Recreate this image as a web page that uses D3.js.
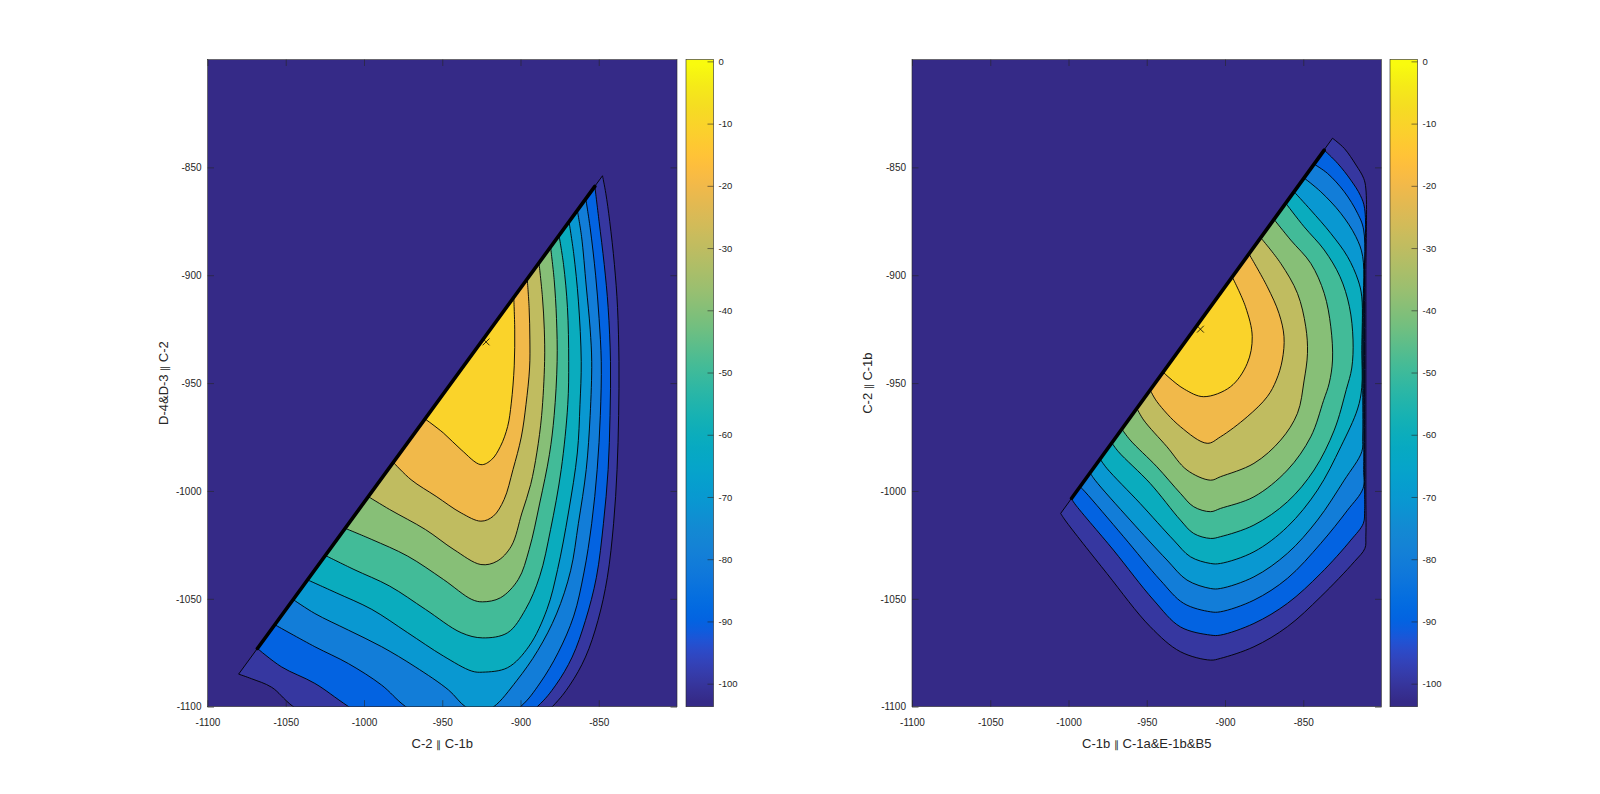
<!DOCTYPE html>
<html>
<head>
<meta charset="utf-8">
<script src="https://cdn.jsdelivr.net/npm/d3@7"></script>
<style>
    body { margin: 0; background: #ffffff; }
    svg text { font-family: "Liberation Sans", Arial, Helvetica, sans-serif; fill: #262626; }
</style>
</head>
<body>
<div id="canvas"></div>
<script>
// contour levels, outermost first
const levels = [-100, -90, -80, -70, -60, -50, -40, -30, -20, -10];
const axisTicks = [-1100, -1050, -1000, -950, -900, -850];
const colorTicks = [0, -10, -20, -30, -40, -50, -60, -70, -80, -90, -100];
const colorLimits = [-103.7, 0.3];

// each contour as [x, y]: from its upper end on the ridge,
// round the curve, to its lower end (closed back along the ridge)
const leftContours = [
    [[-847.6,-853.9],[-845.5,-862],[-843,-875],[-840,-895],[-838,-915],[-837.1,-940],[-837.3,-965],[-838.3,-990],[-840.5,-1015],[-844.5,-1040],[-850.5,-1060],[-858.5,-1077],[-868.5,-1090],[-879.7,-1100],[-950,-1145],[-1045.2,-1100],[-1059,-1091],[-1072,-1087],[-1080.1,-1084.9]],
    [[-852.5,-858.8],[-849.8,-875],[-846.5,-895],[-844,-915],[-842.5,-940],[-842.8,-965],[-844,-990],[-847,-1015],[-851.5,-1040],[-858.5,-1060],[-867,-1077],[-877.5,-1090],[-889.3,-1100],[-945,-1130],[-1009.8,-1100],[-1031.4,-1089.2],[-1052.8,-1081.5],[-1068.1,-1073.0]],
    [[-858.3,-864.5],[-855.5,-878],[-852,-900],[-849.8,-920],[-848.4,-940],[-849,-965],[-851,-990],[-854.5,-1015],[-859.5,-1038],[-866,-1058],[-876,-1075],[-887.5,-1089],[-900,-1100],[-935,-1116],[-973.3,-1100],[-988.7,-1090.0],[-1010.0,-1080.0],[-1031.4,-1072.2],[-1057.0,-1062.0]],
    [[-863.7,-869.9],[-861,-882],[-858,-905],[-855.5,-925],[-854.5,-940],[-855.5,-965],[-858,-990],[-863,-1015],[-868,-1037],[-877,-1057],[-889,-1074],[-902.5,-1088],[-917.1,-1100],[-926,-1102.5],[-935.2,-1100],[-945.9,-1092.3],[-967.3,-1081.5],[-988.7,-1072.2],[-1010.0,-1064.5],[-1031.4,-1056.8],[-1045.3,-1050.3]],
    [[-869.0,-875.2],[-866,-890],[-863,-912],[-861.2,-940],[-862,-960],[-863.7,-982.4],[-869.4,-1010.2],[-876.3,-1036.4],[-883.1,-1054.9],[-894.5,-1071.9],[-908.2,-1081.9],[-924.2,-1084.0],[-931.1,-1083.5],[-949.3,-1076.5],[-972.1,-1065.7],[-995.0,-1054.9],[-1017.8,-1047.2],[-1036.1,-1041.2]],
    [[-875.4,-881.5],[-872.5,-895],[-870,-915],[-869.2,-940],[-869.8,-960],[-874.0,-990.1],[-880.8,-1017.9],[-887.7,-1039.5],[-896.8,-1054.9],[-908.2,-1065.7],[-924.2,-1068.1],[-937.9,-1065.7],[-960.7,-1054.9],[-983.6,-1044.1],[-1006.4,-1036.4],[-1024.7,-1029.9]],
    [[-880.8,-886.9],[-878.5,-902],[-877,-920],[-876.6,-940],[-878.5,-965],[-881.5,-983],[-887.7,-1005.6],[-894.5,-1027.2],[-901.4,-1041.0],[-912.8,-1049.5],[-924.2,-1051.4],[-931.1,-1050.3],[-949.3,-1041.0],[-972.1,-1030.2],[-995.0,-1022.5],[-1012.1,-1017.3]],
    [[-888.2,-894.2],[-886,-910],[-884.8,-925],[-884.6,-940],[-886.5,-965],[-889.5,-982],[-893.5,-997],[-899.1,-1010.2],[-905.9,-1025.6],[-915.1,-1032.6],[-925.3,-1034.1],[-942.5,-1027.2],[-960.7,-1017.9],[-983.6,-1008.6],[-997.3,-1002.6]],
    [[-895.7,-901.7],[-894.5,-915],[-894,-930],[-894.2,-943],[-896.5,-960],[-899.5,-975],[-904.8,-990.1],[-910.5,-1004.0],[-917.4,-1011.7],[-925.3,-1014.0],[-937.9,-1010.2],[-953.9,-1002.5],[-969.9,-994.8],[-981.3,-986.7]],
    [[-904.3,-910.2],[-903.7,-925],[-904,-942],[-905.9,-959.3],[-908.2,-970.1],[-912.8,-979.3],[-918.5,-985.5],[-925.3,-987.8],[-937.9,-980.9],[-949.3,-973.1],[-961,-966.6]]
];

const rightContours = [
    [[-831.3,-836.5],[-823.8,-841.2],[-816.3,-848.9],[-811.4,-855.1],[-810.0,-860],[-810.0,-900],[-810.0,-950],[-810.0,-1000],[-810.0,-1021],[-810.6,-1026.6],[-817.4,-1032.8],[-838.8,-1049.0],[-860.1,-1062.9],[-881.5,-1072.2],[-902.9,-1077.6],[-909.3,-1078.4],[-928.5,-1074.5],[-947.8,-1062.9],[-975.5,-1038.2],[-1002.2,-1013.5],[-1005.0,-1010.4]],
    [[-836.6,-842.0],[-828.1,-848.1],[-819.6,-855.9],[-813.5,-863],[-810.8,-869],[-810.8,-900],[-810.8,-950],[-810.8,-1000],[-810.8,-1009],[-811.6,-1015.0],[-819.6,-1022.8],[-838.8,-1038.2],[-860.1,-1052.1],[-881.5,-1061.4],[-902.9,-1066.8],[-909.3,-1066.8],[-928.5,-1063.0],[-945.6,-1050.6],[-971.3,-1027.4],[-996.9,-1005.0],[-998.0,-1003.4]],
    [[-843.1,-848.5],[-834.5,-852.8],[-823.8,-861.3],[-815.3,-871.3],[-811.4,-879],[-811.4,-910],[-811.4,-950],[-811.4,-990],[-811.8,-998.8],[-821.7,-1008.9],[-838.8,-1024.3],[-860.1,-1040.5],[-881.5,-1050.6],[-902.9,-1056.0],[-909.3,-1056.0],[-926.4,-1052.1],[-941.4,-1041.3],[-964.8,-1021.2],[-989.4,-1000.4],[-992.6,-998.0]],
    [[-849.5,-854.9],[-838.8,-861.3],[-826.0,-871.3],[-816.4,-882.1],[-812.0,-891.4],[-812.0,-920],[-812.0,-950],[-812.0,-975],[-812.6,-981.8],[-823.8,-995.0],[-840.9,-1013.5],[-860.1,-1028.9],[-881.5,-1039.8],[-902.9,-1045.2],[-909.3,-1045.2],[-924.3,-1041.3],[-937.1,-1032.0],[-960.6,-1013.5],[-983.0,-995.0],[-986.2,-991.6]],
    [[-855.9,-861.3],[-845.2,-869.8],[-832.4,-880.6],[-821.7,-891.4],[-815.0,-902.2],[-812.6,-910],[-812.6,-935],[-812.6,-952],[-815.3,-962.0],[-826.0,-979.5],[-840.9,-999.6],[-860.1,-1016.6],[-881.5,-1028.2],[-902.9,-1033.6],[-909.3,-1033.6],[-922.1,-1030.5],[-932.8,-1022.8],[-954.2,-1005.8],[-975.5,-989.5],[-979.8,-985.2]],
    [[-861.2,-866.6],[-849.5,-877.5],[-836.6,-888.3],[-826.5,-900.7],[-820.5,-914.6],[-818.2,-930],[-819,-943],[-822.5,-953],[-830.2,-971.8],[-843.1,-990.3],[-860.1,-1005.0],[-881.5,-1015.8],[-902.9,-1021.2],[-909.3,-1022.0],[-920.0,-1019.7],[-928.5,-1013.5],[-947.8,-996.5],[-968.1,-981.8],[-972.3,-977.7]],
    [[-868.7,-874.1],[-858.0,-883.7],[-845.2,-894.5],[-836.6,-908.4],[-832.4,-923.9],[-831.3,-939.3],[-833.4,-950],[-837,-958],[-845.2,-974.9],[-860.1,-990.3],[-881.5,-1002.7],[-902.9,-1008.1],[-909.3,-1009.6],[-920.0,-1007.3],[-928.5,-1001.1],[-943.5,-988.8],[-960.6,-976.4],[-965.9,-971.3]],
    [[-877.2,-882.6],[-864.4,-894.5],[-853.7,-908.4],[-848.4,-923.9],[-847.3,-936.2],[-849.5,-949],[-853.7,-964.0],[-864.4,-976.4],[-881.5,-987.2],[-902.9,-993.4],[-909.3,-995.0],[-924.3,-990.3],[-937.1,-979.5],[-952.0,-967.1],[-956.3,-961.7]],
    [[-884.7,-890.1],[-873.0,-905.3],[-865.5,-917.7],[-862.3,-928.5],[-863.4,-939.3],[-867.2,-948.6],[-873.0,-956.3],[-885.8,-965.6],[-902.9,-974.9],[-911.4,-977.9],[-928.5,-970.2],[-943.5,-958.6],[-947.8,-953.2]],
    [[-895.4,-900.8],[-886.9,-914.6],[-882.6,-928.5],[-885.8,-940.9],[-896.5,-951.7],[-913.6,-956.3],[-926,-952.8],[-935.8,-947.4],[-939.5,-944.9]]
];

const leftPeak = [-922, -930.9];
const rightPeak = [-915.7, -925];

const leftXLabel = "C-2 \u2225 C-1b";
const leftYLabel = "D-4&D-3 \u2225 C-2";
const rightXLabel = "C-1b \u2225 C-1a&E-1b&B5";
const rightYLabel = "C-2 \u2225 C-1b";

// MATLAB parula, 64 entries
const parula = [
    [0.2081,0.1663,0.5292],[0.2116,0.1898,0.5777],[0.2123,0.2138,0.6270],[0.2081,0.2386,0.6771],
    [0.1959,0.2645,0.7279],[0.1707,0.2919,0.7792],[0.1253,0.3242,0.8303],[0.0591,0.3598,0.8683],
    [0.0117,0.3875,0.8820],[0.0060,0.4086,0.8828],[0.0165,0.4266,0.8786],[0.0329,0.4430,0.8720],
    [0.0498,0.4586,0.8641],[0.0629,0.4737,0.8554],[0.0723,0.4887,0.8467],[0.0779,0.5040,0.8384],
    [0.0793,0.5200,0.8312],[0.0749,0.5375,0.8263],[0.0641,0.5570,0.8240],[0.0488,0.5772,0.8228],
    [0.0343,0.5966,0.8199],[0.0265,0.6137,0.8135],[0.0239,0.6287,0.8038],[0.0231,0.6418,0.7913],
    [0.0228,0.6535,0.7768],[0.0267,0.6642,0.7607],[0.0384,0.6743,0.7436],[0.0590,0.6838,0.7254],
    [0.0843,0.6928,0.7062],[0.1133,0.7015,0.6859],[0.1453,0.7098,0.6646],[0.1801,0.7177,0.6424],
    [0.2178,0.7250,0.6193],[0.2586,0.7317,0.5954],[0.3022,0.7376,0.5712],[0.3482,0.7424,0.5473],
    [0.3953,0.7459,0.5244],[0.4420,0.7481,0.5033],[0.4871,0.7491,0.4840],[0.5300,0.7491,0.4661],
    [0.5709,0.7485,0.4494],[0.6099,0.7473,0.4337],[0.6473,0.7456,0.4188],[0.6834,0.7435,0.4044],
    [0.7184,0.7411,0.3905],[0.7525,0.7384,0.3768],[0.7858,0.7356,0.3633],[0.8185,0.7327,0.3498],
    [0.8507,0.7299,0.3360],[0.8824,0.7274,0.3217],[0.9139,0.7258,0.3063],[0.9450,0.7261,0.2886],
    [0.9739,0.7314,0.2666],[0.9938,0.7455,0.2403],[0.9990,0.7653,0.2164],[0.9955,0.7861,0.1967],
    [0.9880,0.8066,0.1794],[0.9789,0.8271,0.1633],[0.9697,0.8481,0.1475],[0.9626,0.8705,0.1309],
    [0.9589,0.8949,0.1132],[0.9598,0.9218,0.0948],[0.9661,0.9514,0.0755],[0.9763,0.9831,0.0538]
];

const toHex = c => d3.rgb(c[0] * 255, c[1] * 255, c[2] * 255).formatHex();

function levelColor(v) {
    const t = (v - colorLimits[0]) / (colorLimits[1] - colorLimits[0]);
    const i = Math.max(0, Math.min(parula.length - 1, Math.floor(t * parula.length)));
    return toHex(parula[i]);
}

const svg = d3.select("#canvas").append("svg")
    .attr("width", 1600)
    .attr("height", 794);

const plotTop = 59.5,
    plotBottom = 706.7,
    plotWidth = 469.5,
    barWidth = 27.5,
    tickLen = 6.5;

// colour bar gradient, bottom of the map at the bottom of the bar
const grad = svg.append("defs")
    .append("linearGradient")
    .attr("id", "parula")
    .attr("x1", 0).attr("y1", 1)
    .attr("x2", 0).attr("y2", 0);

grad.selectAll("stop")
    .data(parula)
    .join("stop")
    .attr("offset", (d, i) => (i + 0.5) / parula.length)
    .attr("stop-color", d => toHex(d));

function styleAxis(size) {
    return g => {
        g.select(".domain").remove();
        g.selectAll("line").attr("stroke", "#262626").attr("stroke-width", 0.6);
        g.selectAll("text").style("font-size", size);
    };
}

// the parallel sign sits small in the original labels
function labelText(sel, text) {
    text.split("\u2225").forEach((part, i) => {
        if (i > 0) sel.append("tspan").style("font-size", "10px").text("\u2225");
        sel.append("tspan").text(part);
    });
}

function drawPanel(id, left, barLeft, contours, peak, xText, yText) {
    const x = d3.scaleLinear().domain([-1100, -800]).range([left, left + plotWidth]);
    const y = d3.scaleLinear().domain([-1100, -800]).range([plotBottom, plotTop]);

    svg.append("clipPath")
        .attr("id", `clip-${id}`)
      .append("rect")
        .attr("x", left)
        .attr("y", plotTop)
        .attr("width", plotWidth)
        .attr("height", plotBottom - plotTop);

    const plot = svg.append("g").attr("clip-path", `url(#clip-${id})`);

    // below the lowest level
    plot.append("rect")
        .attr("x", left)
        .attr("y", plotTop)
        .attr("width", plotWidth)
        .attr("height", plotBottom - plotTop)
        .attr("fill", levelColor(colorLimits[0]));

    const line = d3.line()
        .x(d => x(d[0]))
        .y(d => y(d[1]))
        .curve(d3.curveCatmullRom.alpha(0.5));

    plot.selectAll("path.band")
        .data(contours)
        .join("path")
        .attr("class", "band")
        .attr("d", d => line(d) + "Z")
        .attr("fill", (d, i) => levelColor(levels[i]))
        .attr("stroke", "#000")
        .attr("stroke-width", 0.9)
        .attr("stroke-linejoin", "round");

    // the jump: all the lines pile up along it
    const ridge = contours[1];
    plot.append("line")
        .attr("x1", x(ridge[0][0]))
        .attr("y1", y(ridge[0][1]))
        .attr("x2", x(ridge[ridge.length - 1][0]))
        .attr("y2", y(ridge[ridge.length - 1][1]))
        .attr("stroke", "#000")
        .attr("stroke-width", 3.6)
        .attr("stroke-linecap", "round");

    plot.append("path")
        .attr("d", d3.symbol(d3.symbolX, 32)())
        .attr("transform", `translate(${x(peak[0])},${y(peak[1])})`)
        .attr("fill", "none")
        .attr("stroke", "#000")
        .attr("stroke-width", 0.8);

    // axes with ticks pointing in, on all four sides
    svg.append("g")
        .attr("transform", `translate(0,${plotBottom})`)
        .call(d3.axisBottom(x).tickValues(axisTicks).tickSizeInner(-tickLen).tickSizeOuter(0)
            .tickPadding(12).tickFormat(d => String(d)))
        .call(styleAxis("10px"));

    svg.append("g")
        .attr("transform", `translate(0,${plotTop})`)
        .call(d3.axisTop(x).tickValues(axisTicks).tickSizeInner(-tickLen).tickSizeOuter(0).tickFormat(""))
        .call(styleAxis("10px"));

    svg.append("g")
        .attr("transform", `translate(${left},0)`)
        .call(d3.axisLeft(y).tickValues(axisTicks).tickSizeInner(-tickLen).tickSizeOuter(0)
            .tickPadding(6).tickFormat(d => String(d)))
        .call(styleAxis("10px"));

    svg.append("g")
        .attr("transform", `translate(${left + plotWidth},0)`)
        .call(d3.axisRight(y).tickValues(axisTicks).tickSizeInner(-tickLen).tickSizeOuter(0).tickFormat(""))
        .call(styleAxis("10px"));

    svg.append("rect")
        .attr("x", left)
        .attr("y", plotTop)
        .attr("width", plotWidth)
        .attr("height", plotBottom - plotTop)
        .attr("fill", "none")
        .attr("stroke", "#262626")
        .attr("stroke-width", 0.6);

    svg.append("text")
        .attr("x", left + plotWidth / 2)
        .attr("y", 748)
        .attr("text-anchor", "middle")
        .style("font-size", "13px")
        .call(labelText, xText);

    svg.append("text")
        .attr("transform", `translate(${left - 40},${(plotTop + plotBottom) / 2}) rotate(-90)`)
        .attr("text-anchor", "middle")
        .style("font-size", "13px")
        .call(labelText, yText);

    // colour bar
    const c = d3.scaleLinear().domain(colorLimits).range([plotBottom, plotTop]);

    svg.append("rect")
        .attr("x", barLeft)
        .attr("y", plotTop)
        .attr("width", barWidth)
        .attr("height", plotBottom - plotTop)
        .attr("fill", "url(#parula)");

    svg.append("g")
        .attr("transform", `translate(${barLeft + barWidth},0)`)
        .call(d3.axisRight(c).tickValues(colorTicks).tickSizeInner(-6).tickSizeOuter(0)
            .tickPadding(5).tickFormat(d => String(d)))
        .call(styleAxis("9.5px"));

    svg.append("rect")
        .attr("x", barLeft)
        .attr("y", plotTop)
        .attr("width", barWidth)
        .attr("height", plotBottom - plotTop)
        .attr("fill", "none")
        .attr("stroke", "#262626")
        .attr("stroke-width", 0.6);
}

drawPanel("left", 207.5, 686, leftContours, leftPeak, leftXLabel, leftYLabel);
drawPanel("right", 912, 1390, rightContours, rightPeak, rightXLabel, rightYLabel);
</script>
</body>
</html>
